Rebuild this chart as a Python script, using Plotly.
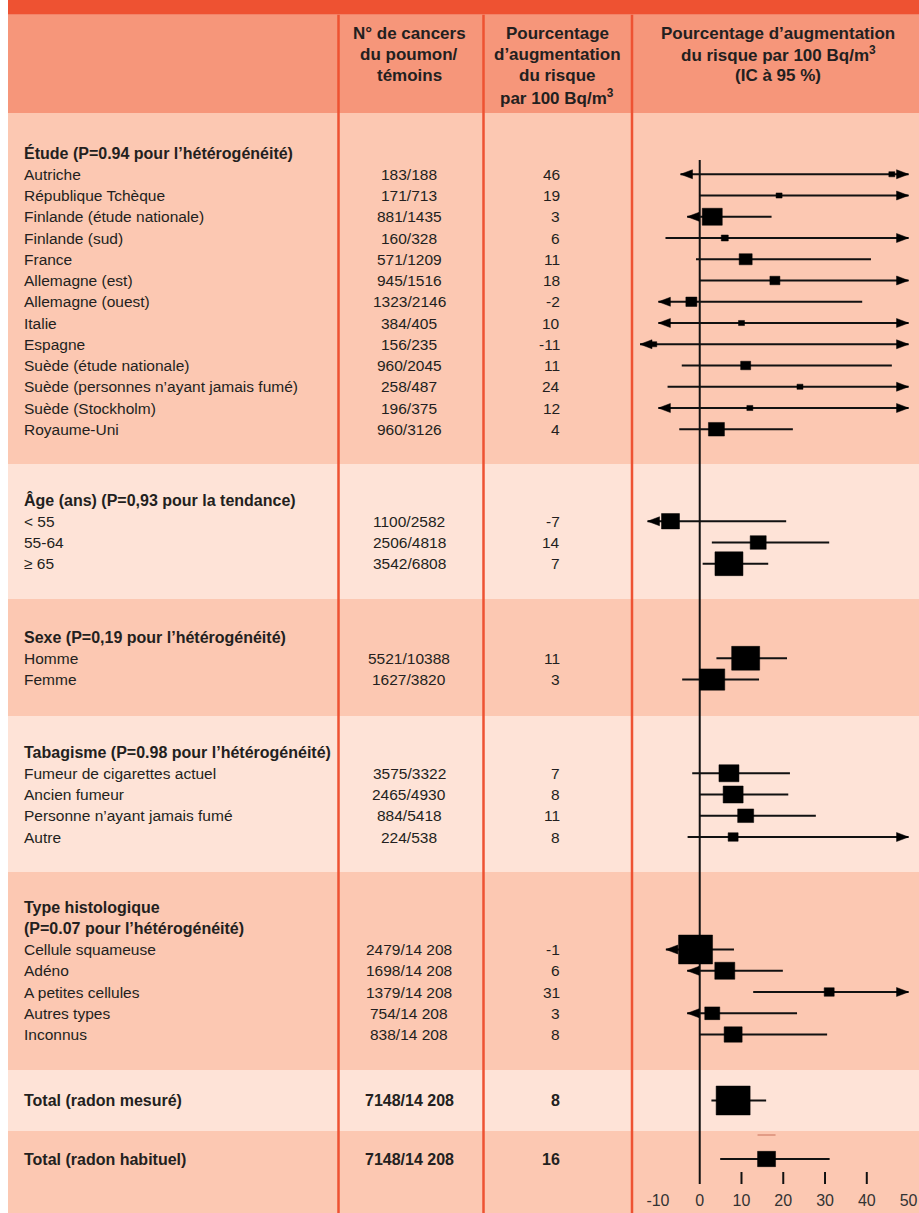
import plotly.graph_objects as go

W, H = 919, 1213

# ---------------- data ----------------
etude_labels = ["Autriche", "République Tchèque", "Finlande (étude nationale)", "Finlande (sud)",
                "France", "Allemagne (est)", "Allemagne (ouest)", "Italie", "Espagne",
                "Suède (étude nationale)", "Suède (personnes n’ayant jamais fumé)",
                "Suède (Stockholm)", "Royaume-Uni"]
etude_counts = ["183/188", "171/713", "881/1435", "160/328", "571/1209", "945/1516", "1323/2146",
                "384/405", "156/235", "960/2045", "258/487", "196/375", "960/3126"]
etude_pct = [46, 19, 3, 6, 11, 18, -2, 10, -11, 11, 24, 12, 4]
etude_lo = [-4.6, 0, -3.0, -8.2, -0.9, 0, -9.9, -9.9, -14.3, -4.3, -7.7, -9.9, -4.9]
etude_hi = [50, 50, 17.2, 50, 41.0, 50, 38.9, 50, 50, 46.0, 50, 50, 22.3]
etude_clip = ["<>", ">", "<", ">", "", ">", "<", "<>", "<>", "", ">", "<>", ""]

age_labels = ["&lt; 55", "55-64", "≥ 65"]
age_counts = ["1100/2582", "2506/4818", "3542/6808"]
age_pct = [-7, 14, 7]
age_lo = [-12.5, 2.9, 0.7]
age_hi = [20.7, 31.0, 16.4]
age_clip = ["<", "", ""]

sexe_labels = ["Homme", "Femme"]
sexe_counts = ["5521/10388", "1627/3820"]
sexe_pct = [11, 3]
sexe_lo = [4.0, -4.2]
sexe_hi = [20.9, 14.2]
sexe_clip = ["", ""]

tabac_labels = ["Fumeur de cigarettes actuel", "Ancien fumeur", "Personne n’ayant jamais fumé", "Autre"]
tabac_counts = ["3575/3322", "2465/4930", "884/5418", "224/538"]
tabac_pct = [7, 8, 11, 8]
tabac_lo = [-1.8, 0, 0, -2.9]
tabac_hi = [21.6, 21.2, 27.8, 50]
tabac_clip = ["", "", "", ">"]

histo_labels = ["Cellule squameuse", "Adéno", "A petites cellules", "Autres types", "Inconnus"]
histo_counts = ["2479/14 208", "1698/14 208", "1379/14 208", "754/14 208", "838/14 208"]
histo_pct = [-1, 6, 31, 3, 8]
histo_lo = [-8.1, -3.0, 12.8, -3.0, 0]
histo_hi = [8.2, 19.9, 50, 23.3, 30.5]
histo_clip = ["<", "<", ">", "<", ""]

total_labels = ["Total (radon mesuré)", "Total (radon habituel)"]
total_counts = ["7148/14 208", "7148/14 208"]
total_pct = [8, 16]
total_lo = [2.8, 4.9]
total_hi = [15.9, 31.1]
total_clip = ["", ""]

section_titles = [
    ["Étude (P=0.94 pour l’hétérogénéité)"],
    ["Âge (ans) (P=0,93 pour la tendance)"],
    ["Sexe (P=0,19 pour l’hétérogénéité)"],
    ["Tabagisme (P=0.98 pour l’hétérogénéité)"],
    ["Type histologique", "(P=0.07 pour l’hétérogénéité)"],
]

x_ticks = [-10, 0, 10, 20, 30, 40, 50]
x_tick_text = ["-10", "0", "10", "20", "30", "40", "50"]
x_tick_marks = [10, 20, 30, 40]

# ---------------- styling / layout ----------------
FONT = "Liberation Sans, Arial, sans-serif"
INK = "#231f20"
STRIP = "#ee5232"
HEAD_BG = "#f6967a"
BAND_MED = "#fcc8b2"
BAND_LIGHT = "#fee3d7"
LEFT = 8
STRIP_BOTTOM = 14.7
HEADER_BOTTOM = 113
band_edges = [113, 464, 599, 716, 872, 1070, 1131, 1213]
band_colors = [BAND_MED, BAND_LIGHT, BAND_MED, BAND_LIGHT, BAND_MED, BAND_LIGHT, BAND_MED]
header_pad = [40, 36, 38, 36, 35]
total_pad = [30.5, 28]
ROW_PITCH = 21.25
DIVIDERS = [338.5, 483.5, 632]
COL_LABEL_X = 22
COL_COUNT_X = 409
COL_PCT_X = 562
BODY_SIZE = 15.5
BOLD_SIZE = 16
HEAD_SIZE = 17

# box widths (px) of the squares, per row
box_px = [6, 6, 20, 7, 13, 10, 11, 6, 6, 10, 6, 6, 16,
          18, 16, 28,
          28, 25,
          20, 20, 16, 10,
          34, 20, 10, 15, 18,
          34, 18]
BOX_ASPECT = 0.85
ARROW_LEN = 12
ARROW_HALF = 4.5

# forest axis: domain in pixels -> value range
X_DOM_PX = (640, W)
X_RANGE = (-14.3, 52.5)
PPU = (X_DOM_PX[1] - X_DOM_PX[0]) / (X_RANGE[1] - X_RANGE[0])
ZERO_TOP, ZERO_BOTTOM = 160, 1184
TICK_TOP = 1172

groups = [
    (etude_labels, etude_counts, etude_pct, etude_lo, etude_hi, etude_clip),
    (age_labels, age_counts, age_pct, age_lo, age_hi, age_clip),
    (sexe_labels, sexe_counts, sexe_pct, sexe_lo, sexe_hi, sexe_clip),
    (tabac_labels, tabac_counts, tabac_pct, tabac_lo, tabac_hi, tabac_clip),
    (histo_labels, histo_counts, histo_pct, histo_lo, histo_hi, histo_clip),
]


def px(x):
    return x / W


annotations = []
shapes = []


def text(x, y, s, anchor="left", bold=False, size=None):
    if size is None:
        size = BOLD_SIZE if bold else BODY_SIZE
    annotations.append(dict(
        x=px(x), y=y, xref="paper", yref="y", text=f"<b>{s}</b>" if bold else s,
        showarrow=False, xanchor=anchor, yanchor="middle",
        font=dict(family=FONT, size=size, color=INK)))


# background bands
shapes.append(dict(type="rect", xref="paper", yref="y", x0=px(LEFT), x1=1, y0=0, y1=STRIP_BOTTOM,
                   fillcolor=STRIP, line_width=0, layer="below"))
shapes.append(dict(type="rect", xref="paper", yref="y", x0=px(LEFT), x1=1, y0=STRIP_BOTTOM,
                   y1=HEADER_BOTTOM, fillcolor=HEAD_BG, line_width=0, layer="below"))
for i, c in enumerate(band_colors):
    shapes.append(dict(type="rect", xref="paper", yref="y", x0=px(LEFT), x1=1,
                       y0=band_edges[i], y1=band_edges[i + 1], fillcolor=c, line_width=0, layer="below"))
for d in DIVIDERS:
    shapes.append(dict(type="line", xref="paper", yref="y", x0=px(d), x1=px(d),
                       y0=STRIP_BOTTOM, y1=H, line=dict(color=STRIP, width=2.5), layer="below"))

# column headers
for i, s in enumerate(["N° de cancers", "du poumon/", "témoins"]):
    text(COL_COUNT_X, 33 + i * 21, s, "center", True, HEAD_SIZE)
for i, s in enumerate(["Pourcentage", "d’augmentation", "du risque", "par 100 Bq/m<sup>3</sup>"]):
    text(557, 33 + i * 21.3, s, "center", True, HEAD_SIZE)
for i, s in enumerate(["Pourcentage d’augmentation", "du risque par 100 Bq/m<sup>3</sup>", "(IC à 95 %)"]):
    text(778, 33 + i * 21, s, "center", True, HEAD_SIZE)

# rows
rows = []  # (y, est, lo, hi, clip)
for gi, (labels, counts, pct, lo, hi, clip) in enumerate(groups):
    y = band_edges[gi] + header_pad[gi]
    for line in section_titles[gi]:
        text(COL_LABEL_X, y, line, bold=True)
        y += ROW_PITCH
    for k in range(len(labels)):
        text(COL_LABEL_X, y, labels[k])
        text(COL_COUNT_X, y, counts[k], "center")
        text(COL_PCT_X, y, str(pct[k]), "right")
        rows.append((y, pct[k], lo[k], hi[k], clip[k]))
        y += ROW_PITCH

for k in range(len(total_labels)):
    y = band_edges[5 + k] + total_pad[k]
    text(COL_LABEL_X, y, total_labels[k], bold=True)
    text(COL_COUNT_X, y, total_counts[k], "center", bold=True)
    text(COL_PCT_X, y, str(total_pct[k]), "right", bold=True)
    rows.append((y, total_pct[k], total_lo[k], total_hi[k], total_clip[k]))

# forest marks
ci_x, ci_y = [], []
arr_x, arr_y = [], []
box_x, box_y = [], []
alen = ARROW_LEN / PPU
for (y, est, lo, hi, clip), bw in zip(rows, box_px):
    ci_x += [lo, hi, None]
    ci_y += [y, y, None]
    if "<" in clip:
        arr_x += [lo, lo + alen, lo + alen, lo, None]
        arr_y += [y, y - ARROW_HALF, y + ARROW_HALF, y, None]
    if ">" in clip:
        arr_x += [hi, hi - alen, hi - alen, hi, None]
        arr_y += [y, y - ARROW_HALF, y + ARROW_HALF, y, None]
    hw = bw / 2 / PPU
    hh = bw * BOX_ASPECT / 2
    box_x += [est - hw, est + hw, est + hw, est - hw, est - hw, None]
    box_y += [y - hh, y - hh, y + hh, y + hh, y - hh, None]

# faint printer's dash above the last square
last_y, last_est = rows[-1][0], rows[-1][1]
last_hw = box_px[-1] / 2 / PPU

fig = go.Figure()
fig.add_trace(go.Scatter(x=[0, 0], y=[ZERO_TOP, ZERO_BOTTOM], mode="lines",
                         line=dict(color="#111111", width=2), hoverinfo="skip"))
tx, ty = [], []
for v in x_tick_marks:
    tx += [v, v, None]
    ty += [TICK_TOP, ZERO_BOTTOM, None]
fig.add_trace(go.Scatter(x=tx, y=ty, mode="lines", line=dict(color="#111111", width=2), hoverinfo="skip"))
fig.add_trace(go.Scatter(x=ci_x, y=ci_y, mode="lines", line=dict(color="#111111", width=1.8),
                         hoverinfo="skip"))
fig.add_trace(go.Scatter(x=arr_x, y=arr_y, mode="lines", fill="toself", fillcolor="#000000",
                         line=dict(color="#000000", width=0.5), hoverinfo="skip"))
fig.add_trace(go.Scatter(x=box_x, y=box_y, mode="lines", fill="toself", fillcolor="#000000",
                         line=dict(color="#000000", width=0.5), hoverinfo="skip"))
fig.add_trace(go.Scatter(x=[last_est - last_hw, last_est + last_hw], y=[last_y - 24, last_y - 24],
                         mode="lines", line=dict(color="#c8705a", width=1), hoverinfo="skip"))

fig.update_layout(
    width=W, height=H, margin=dict(l=0, r=0, t=0, b=0),
    paper_bgcolor="white", plot_bgcolor="rgba(0,0,0,0)",
    showlegend=False, shapes=shapes, annotations=annotations,
    xaxis=dict(domain=[X_DOM_PX[0] / W, 1], range=list(X_RANGE), anchor="free",
               position=1 - 1189 / H, showgrid=False, zeroline=False, showline=False,
               tickvals=x_ticks, ticktext=x_tick_text, ticks="",
               tickfont=dict(family=FONT, size=16, color="#333333")),
    yaxis=dict(domain=[0, 1], range=[H, 0], visible=False),
)

fig.write_html("out.html")
